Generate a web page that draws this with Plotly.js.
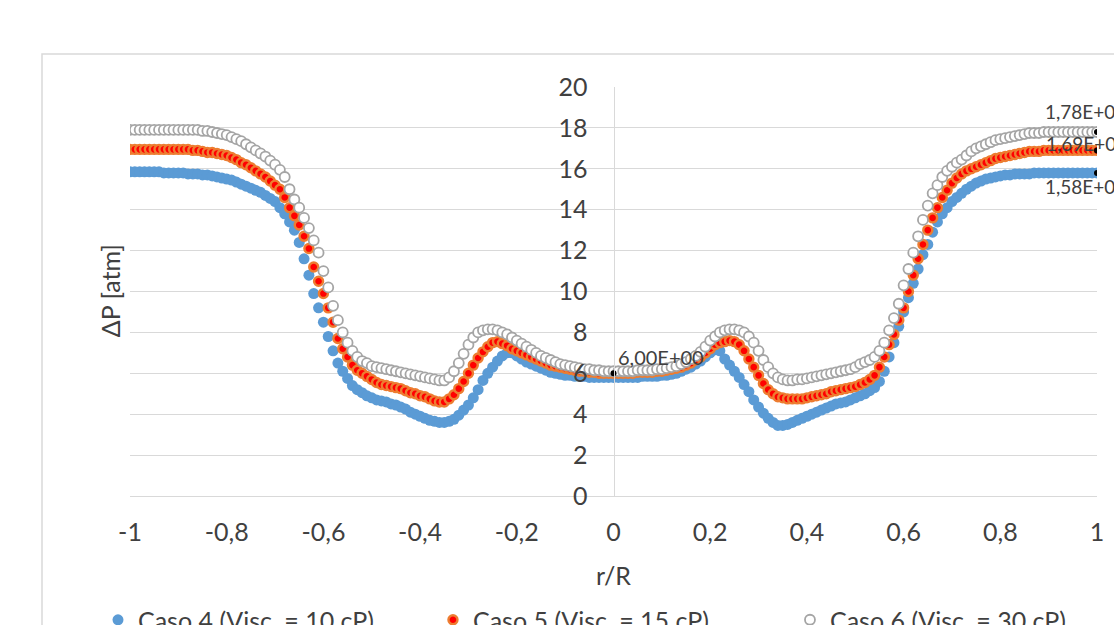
<!DOCTYPE html>
<html>
<head>
<meta charset="utf-8">
<script src="https://cdn.plot.ly/plotly-3.0.1.min.js"></script>
<style>
  html, body { margin: 0; padding: 0; background: #ffffff; }
  #chart { width: 1114px; height: 625px; }
</style>
</head>
<body>
<div id="chart"></div>
<script>
// r/R positions
const rR = [
  -1.00,-0.99,-0.98,-0.97,-0.96,-0.95,-0.94,-0.93,-0.92,-0.91,
  -0.90,-0.89,-0.88,-0.87,-0.86,-0.85,-0.84,-0.83,-0.82,-0.81,
  -0.80,-0.79,-0.78,-0.77,-0.76,-0.75,-0.74,-0.73,-0.72,-0.71,
  -0.70,-0.69,-0.68,-0.67,-0.66,-0.65,-0.64,-0.63,-0.62,-0.61,
  -0.60,-0.59,-0.58,-0.57,-0.56,-0.55,-0.54,-0.53,-0.52,-0.51,
  -0.50,-0.49,-0.48,-0.47,-0.46,-0.45,-0.44,-0.43,-0.42,-0.41,
  -0.40,-0.39,-0.38,-0.37,-0.36,-0.35,-0.34,-0.33,-0.32,-0.31,
  -0.30,-0.29,-0.28,-0.27,-0.26,-0.25,-0.24,-0.23,-0.22,-0.21,
  -0.20,-0.19,-0.18,-0.17,-0.16,-0.15,-0.14,-0.13,-0.12,-0.11,
  -0.10,-0.09,-0.08,-0.07,-0.06,-0.05,-0.04,-0.03,-0.02,-0.01,
  0.00,
  0.01,0.02,0.03,0.04,0.05,0.06,0.07,0.08,0.09,0.10,
  0.11,0.12,0.13,0.14,0.15,0.16,0.17,0.18,0.19,0.20,
  0.21,0.22,0.23,0.24,0.25,0.26,0.27,0.28,0.29,0.30,
  0.31,0.32,0.33,0.34,0.35,0.36,0.37,0.38,0.39,0.40,
  0.41,0.42,0.43,0.44,0.45,0.46,0.47,0.48,0.49,0.50,
  0.51,0.52,0.53,0.54,0.55,0.56,0.57,0.58,0.59,0.60,
  0.61,0.62,0.63,0.64,0.65,0.66,0.67,0.68,0.69,0.70,
  0.71,0.72,0.73,0.74,0.75,0.76,0.77,0.78,0.79,0.80,
  0.81,0.82,0.83,0.84,0.85,0.86,0.87,0.88,0.89,0.90,
  0.91,0.92,0.93,0.94,0.95,0.96,0.97,0.98,0.99,1.00
];

// Caso 4 (Visc. = 10 cP)
const caso4 = [
  15.85,15.85,15.85,15.85,15.85,15.85,15.85,15.8,15.8,15.8,
  15.8,15.8,15.75,15.75,15.75,15.7,15.7,15.65,15.6,15.55,
  15.5,15.45,15.35,15.25,15.15,15.05,14.95,14.85,14.7,14.55,
  14.4,14.1,13.8,13.4,13.0,12.4,11.6,10.8,9.9,9.2,
  8.5,7.8,7.1,6.5,6.1,5.75,5.4,5.2,5.05,4.9,
  4.8,4.7,4.65,4.6,4.5,4.45,4.35,4.25,4.1,4.0,
  3.9,3.8,3.7,3.65,3.6,3.6,3.65,3.75,3.95,4.2,
  4.45,4.8,5.2,5.65,6.0,6.3,6.6,6.85,7.0,7.0,
  6.85,6.7,6.55,6.45,6.35,6.25,6.15,6.05,6.0,5.95,
  5.9,5.9,5.85,5.85,5.85,5.8,5.8,5.8,5.8,5.8,
  5.8,
  5.8,5.8,5.8,5.8,5.8,5.85,5.85,5.85,5.85,5.9,
  5.9,5.95,6.0,6.1,6.2,6.3,6.45,6.6,6.8,7.0,
  7.15,7.1,6.7,6.4,6.1,5.8,5.45,5.1,4.7,4.35,
  4.05,3.8,3.6,3.45,3.45,3.5,3.6,3.7,3.8,3.9,
  4.0,4.1,4.2,4.3,4.4,4.5,4.55,4.6,4.7,4.8,
  4.9,5.0,5.15,5.3,5.6,6.1,6.8,7.5,8.3,9.0,
  9.7,10.4,11.1,11.8,12.3,12.9,13.4,13.8,14.1,14.4,
  14.6,14.8,15.0,15.15,15.3,15.4,15.5,15.55,15.6,15.65,
  15.7,15.7,15.75,15.75,15.75,15.75,15.8,15.8,15.8,15.8,
  15.8,15.8,15.8,15.8,15.8,15.8,15.8,15.8,15.8,15.8
];

// Caso 5 (Visc. = 15 cP)
const caso5 = [
  16.95,16.95,16.95,16.95,16.95,16.95,16.95,16.95,16.95,16.95,
  16.95,16.95,16.95,16.9,16.9,16.85,16.8,16.8,16.75,16.7,
  16.65,16.55,16.45,16.3,16.2,16.05,15.9,15.75,15.6,15.4,
  15.2,15.0,14.6,14.1,13.7,13.25,12.7,12.1,11.2,10.5,
  9.9,9.2,8.5,7.7,7.2,6.8,6.4,6.15,6.0,5.85,
  5.7,5.55,5.45,5.4,5.35,5.3,5.25,5.15,5.05,5.0,
  4.9,4.85,4.75,4.65,4.6,4.6,4.75,4.95,5.25,5.6,
  6.0,6.4,6.75,7.05,7.3,7.5,7.55,7.45,7.35,7.2,
  7.1,7.0,6.9,6.8,6.7,6.6,6.5,6.4,6.35,6.3,
  6.25,6.2,6.15,6.1,6.1,6.05,6.05,6.0,6.0,6.0,
  6.0,
  6.0,6.0,6.0,6.0,6.05,6.05,6.05,6.05,6.1,6.1,
  6.15,6.2,6.25,6.3,6.4,6.5,6.65,6.8,7.0,7.2,
  7.4,7.5,7.55,7.6,7.55,7.4,7.1,6.7,6.3,5.9,
  5.5,5.2,5.0,4.85,4.8,4.75,4.75,4.75,4.75,4.8,
  4.85,4.9,4.95,5.0,5.1,5.15,5.2,5.25,5.3,5.35,
  5.45,5.55,5.7,5.9,6.3,6.8,7.4,7.9,8.6,9.2,
  10.0,10.8,11.6,12.3,13.0,13.6,14.1,14.6,14.95,15.3,
  15.55,15.75,15.9,16.0,16.1,16.2,16.3,16.4,16.5,16.55,
  16.6,16.65,16.7,16.75,16.8,16.85,16.85,16.85,16.9,16.9,
  16.9,16.9,16.9,16.9,16.9,16.9,16.9,16.9,16.9,16.9
];

// Caso 6 (Visc. = 30 cP)
const caso6 = [
  17.9,17.9,17.9,17.9,17.9,17.9,17.9,17.9,17.9,17.9,
  17.9,17.9,17.9,17.9,17.9,17.85,17.85,17.8,17.75,17.7,
  17.65,17.55,17.45,17.35,17.2,17.05,16.9,16.75,16.6,16.4,
  16.2,15.95,15.6,15.0,14.5,14.1,13.6,13.1,12.5,11.9,
  11.0,10.2,9.3,8.6,8.0,7.5,7.1,6.8,6.6,6.5,
  6.35,6.3,6.25,6.2,6.15,6.1,6.05,6.0,5.95,5.9,
  5.85,5.8,5.75,5.7,5.65,5.65,5.8,6.1,6.5,6.95,
  7.4,7.75,8.0,8.1,8.15,8.15,8.1,8.0,7.9,7.75,
  7.6,7.45,7.3,7.15,7.0,6.85,6.75,6.65,6.55,6.45,
  6.4,6.35,6.3,6.25,6.2,6.2,6.15,6.15,6.1,6.1,
  6.1,
  6.1,6.1,6.1,6.1,6.15,6.15,6.15,6.15,6.2,6.2,
  6.25,6.3,6.35,6.45,6.55,6.7,6.85,7.05,7.3,7.6,
  7.8,8.0,8.1,8.15,8.15,8.1,8.0,7.8,7.5,7.1,
  6.65,6.3,6.0,5.8,5.7,5.65,5.65,5.7,5.7,5.75,
  5.8,5.85,5.9,5.95,6.0,6.05,6.1,6.15,6.2,6.3,
  6.45,6.55,6.65,6.8,7.1,7.5,8.1,8.7,9.4,10.3,
  11.1,11.9,12.7,13.5,14.2,14.8,15.2,15.6,15.9,16.1,
  16.3,16.45,16.65,16.85,17.0,17.1,17.2,17.3,17.4,17.45,
  17.5,17.55,17.6,17.65,17.7,17.75,17.75,17.75,17.8,17.8,
  17.8,17.8,17.8,17.8,17.8,17.8,17.8,17.8,17.8,17.8
];

const seriesNames = ['Caso 4 (Visc. = 10 cP)', 'Caso 5 (Visc. = 15 cP)', 'Caso 6 (Visc. = 30 cP)'];
const xTickVals = [-1, -0.8, -0.6, -0.4, -0.2, 0, 0.2, 0.4, 0.6, 0.8, 1];
const xTickText = ['-1', '-0,8', '-0,6', '-0,4', '-0,2', '0', '0,2', '0,4', '0,6', '0,8', '1'];
const yTickVals = [0, 2, 4, 6, 8, 10, 12, 14, 16, 18, 20];
const yTickText = ['0', '2', '4', '6', '8', '10', '12', '14', '16', '18', '20'];

const FONT = 'Lato, "Open Sans", sans-serif';
const TXT = '#404040';

function sci(v) {
  const s = v.toExponential(2);
  const parts = s.split('e');
  const mant = parts[0].replace('.', ',');
  let exp = parseInt(parts[1], 10);
  const sign = exp < 0 ? '-' : '+';
  exp = Math.abs(exp);
  return mant + 'E' + sign + (exp < 10 ? '0' + exp : String(exp));
}

const last = rR.length - 1;
const mid = rR.indexOf(0);

const traces = [
  {
    type: 'scatter', mode: 'markers', name: seriesNames[0], legend: 'legend',
    x: rR, y: caso4,
    marker: { symbol: 'circle', size: 11, color: '#5B9BD5', line: { width: 0 } }
  },
  {
    type: 'scatter', mode: 'markers', name: seriesNames[1], legend: 'legend2',
    x: rR, y: caso5,
    marker: { symbol: 'circle', size: 9, color: '#FF0000', line: { width: 2.4, color: '#ED7D31' } }
  },
  {
    type: 'scatter', mode: 'markers', name: seriesNames[2], legend: 'legend3',
    x: rR, y: caso6,
    marker: { symbol: 'circle', size: 10, color: '#FFFFFF', line: { width: 1.8, color: '#A5A5A5' } }
  },
  {
    type: 'scatter', mode: 'markers', showlegend: false,
    x: [rR[last], rR[last], rR[last], rR[mid]],
    y: [caso4[last], caso5[last], caso6[last], caso5[mid]],
    marker: { symbol: 'circle', size: 6, color: '#000000' }
  }
];

const labelFont = { family: FONT, size: 19, color: TXT };
const annotations = [
  { xref: 'x', yref: 'y', x: rR[last], y: caso6[last], text: sci(caso6[last]),
    xanchor: 'left', yanchor: 'middle', xshift: -54, yshift: 20, showarrow: false, font: labelFont },
  { xref: 'x', yref: 'y', x: rR[last], y: caso5[last], text: sci(caso5[last]),
    xanchor: 'left', yanchor: 'middle', xshift: -53, yshift: 7, showarrow: false, font: labelFont },
  { xref: 'x', yref: 'y', x: rR[last], y: caso4[last], text: sci(caso4[last]),
    xanchor: 'left', yanchor: 'middle', xshift: -54, yshift: -14, showarrow: false, font: labelFont },
  { xref: 'x', yref: 'y', x: rR[mid], y: caso5[mid], text: sci(caso5[mid]),
    xanchor: 'left', yanchor: 'middle', xshift: 2, yshift: 16, showarrow: false,
    font: { family: FONT, size: 20, color: TXT } },
  { xref: 'paper', yref: 'paper', x: -0.0207, y: 0.503, text: 'ΔP [atm]', textangle: -90,
    xanchor: 'center', yanchor: 'middle', showarrow: false,
    font: { family: FONT, size: 25, color: TXT } },
  { xref: 'paper', yref: 'paper', x: 0.5, y: -0.193, text: 'r/R',
    xanchor: 'center', yanchor: 'middle', showarrow: false,
    font: { family: FONT, size: 25, color: TXT } }
];

function legendAt(xp) {
  return {
    orientation: 'h', xref: 'paper', yref: 'paper',
    x: xp, y: -0.247, xanchor: 'left', yanchor: 'top',
    font: { family: FONT, size: 25, color: TXT },
    bgcolor: 'rgba(0,0,0,0)', borderwidth: 0
  };
}

const layout = {
  width: 1114, height: 625,
  paper_bgcolor: '#ffffff', plot_bgcolor: '#ffffff',
  margin: { l: 130, r: 17, t: 87, b: 129, pad: 0, autoexpand: false },
  font: { family: FONT, color: TXT, size: 25 },
  showlegend: true,
  xaxis: {
    range: [-1, 1], domain: [0, 1],
    tickmode: 'array', tickvals: xTickVals, ticktext: xTickText,
    showgrid: false, zeroline: false,
    showline: true, linecolor: '#D9D9D9', linewidth: 1,
    ticks: '', ticklabelstandoff: 14,
    tickfont: { family: FONT, size: 25, color: TXT }
  },
  yaxis: {
    range: [0, 20], domain: [0, 1],
    anchor: 'free', position: 0.5,
    tickmode: 'array', tickvals: yTickVals, ticktext: yTickText,
    showgrid: true, gridcolor: '#D9D9D9', gridwidth: 1,
    zeroline: false,
    showline: true, linecolor: '#D9D9D9', linewidth: 1,
    ticks: '', ticklabelstandoff: 21,
    tickfont: { family: FONT, size: 25, color: TXT }
  },
  legend: legendAt(-0.0331),
  legend2: legendAt(0.3133),
  legend3: legendAt(0.6825),
  shapes: [
    { type: 'rect', xref: 'paper', yref: 'paper',
      x0: -0.091, x1: 1.2, y0: -0.6, y1: 1.0807,
      line: { color: '#D9D9D9', width: 1.5 }, fillcolor: 'rgba(0,0,0,0)', layer: 'below' }
  ],
  annotations: annotations
};

Plotly.newPlot('chart', traces, layout, { staticPlot: true, displayModeBar: false });
</script>
</body>
</html>
